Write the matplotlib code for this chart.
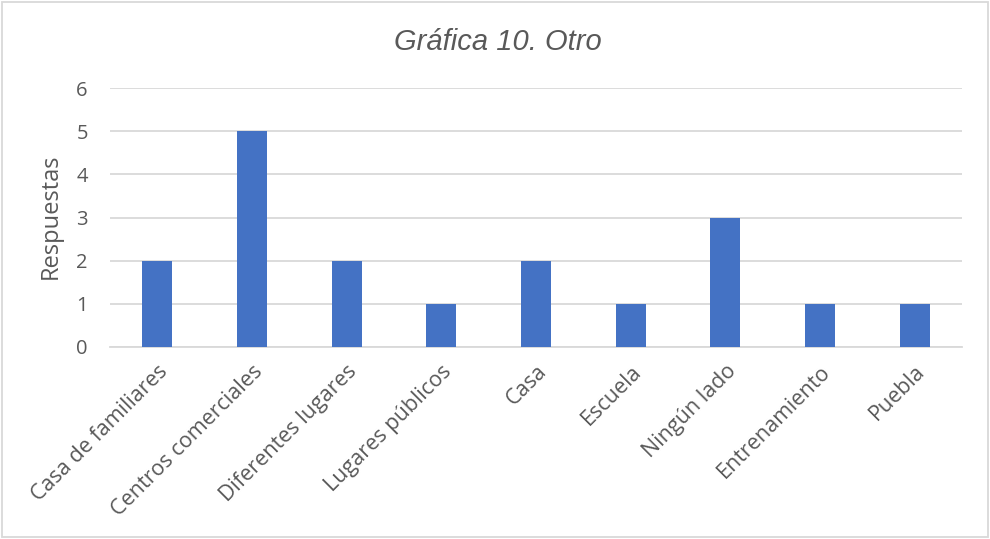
import matplotlib
matplotlib.use("Agg")
import matplotlib.pyplot as plt
from matplotlib.patches import Rectangle

categories = ["Casa de familiares", "Centros comerciales", "Diferentes lugares",
              "Lugares públicos", "Casa", "Escuela", "Ningún lado",
              "Entrenamiento", "Puebla"]
values = [2, 5, 2, 1, 2, 1, 3, 1, 1]
yticks = [0, 1, 2, 3, 4, 5, 6]

plt.rcParams['font.family'] = ['Open Sans', 'DejaVu Sans']
txt = '#595959'

fig = plt.figure(figsize=(9.9, 5.39), dpi=100)
ax = fig.add_axes([110/990, 1-347/539, (962-110)/990, (347-88)/539])

x = list(range(len(categories)))
ax.bar(x, values, width=0.32, color='#4472C4', zorder=3)
ax.set_xlim(-0.5, len(categories)-0.5)
ax.set_ylim(0, 6)
ax.set_yticks(yticks)
ax.set_yticklabels([str(v) for v in yticks], fontsize=14.5, color=txt)
ax.yaxis.grid(True, color='#D9D9D9', linewidth=1.3, zorder=0)
ax.set_xticks(x)
ax.set_xticklabels(categories, rotation=45, ha='right', rotation_mode='anchor',
                   fontsize=15.5, color=txt)
ax.tick_params(axis='both', length=0)
ax.tick_params(axis='x', pad=10)
ax.tick_params(axis='y', pad=16)
for s in ['top', 'right', 'left']:
    ax.spines[s].set_visible(False)
ax.spines['bottom'].set_color('#D9D9D9')
ax.spines['bottom'].set_linewidth(1.3)
ax.set_ylabel('Respuestas', fontsize=17, color=txt)
ax.yaxis.set_label_coords(63/990, 1-216/539, transform=fig.transFigure)

fig.text(498/990, 1-42/539, 'Gráfica 10. Otro', ha='center', va='center',
         fontsize=21, style='italic', color=txt, family='Liberation Sans')

fig.patches.append(Rectangle((2/990, 2/539), 986/990, 535/539, transform=fig.transFigure,
                             fill=False, edgecolor='#D9D9D9', linewidth=1.3))

fig.savefig('out.png', dpi=100)
